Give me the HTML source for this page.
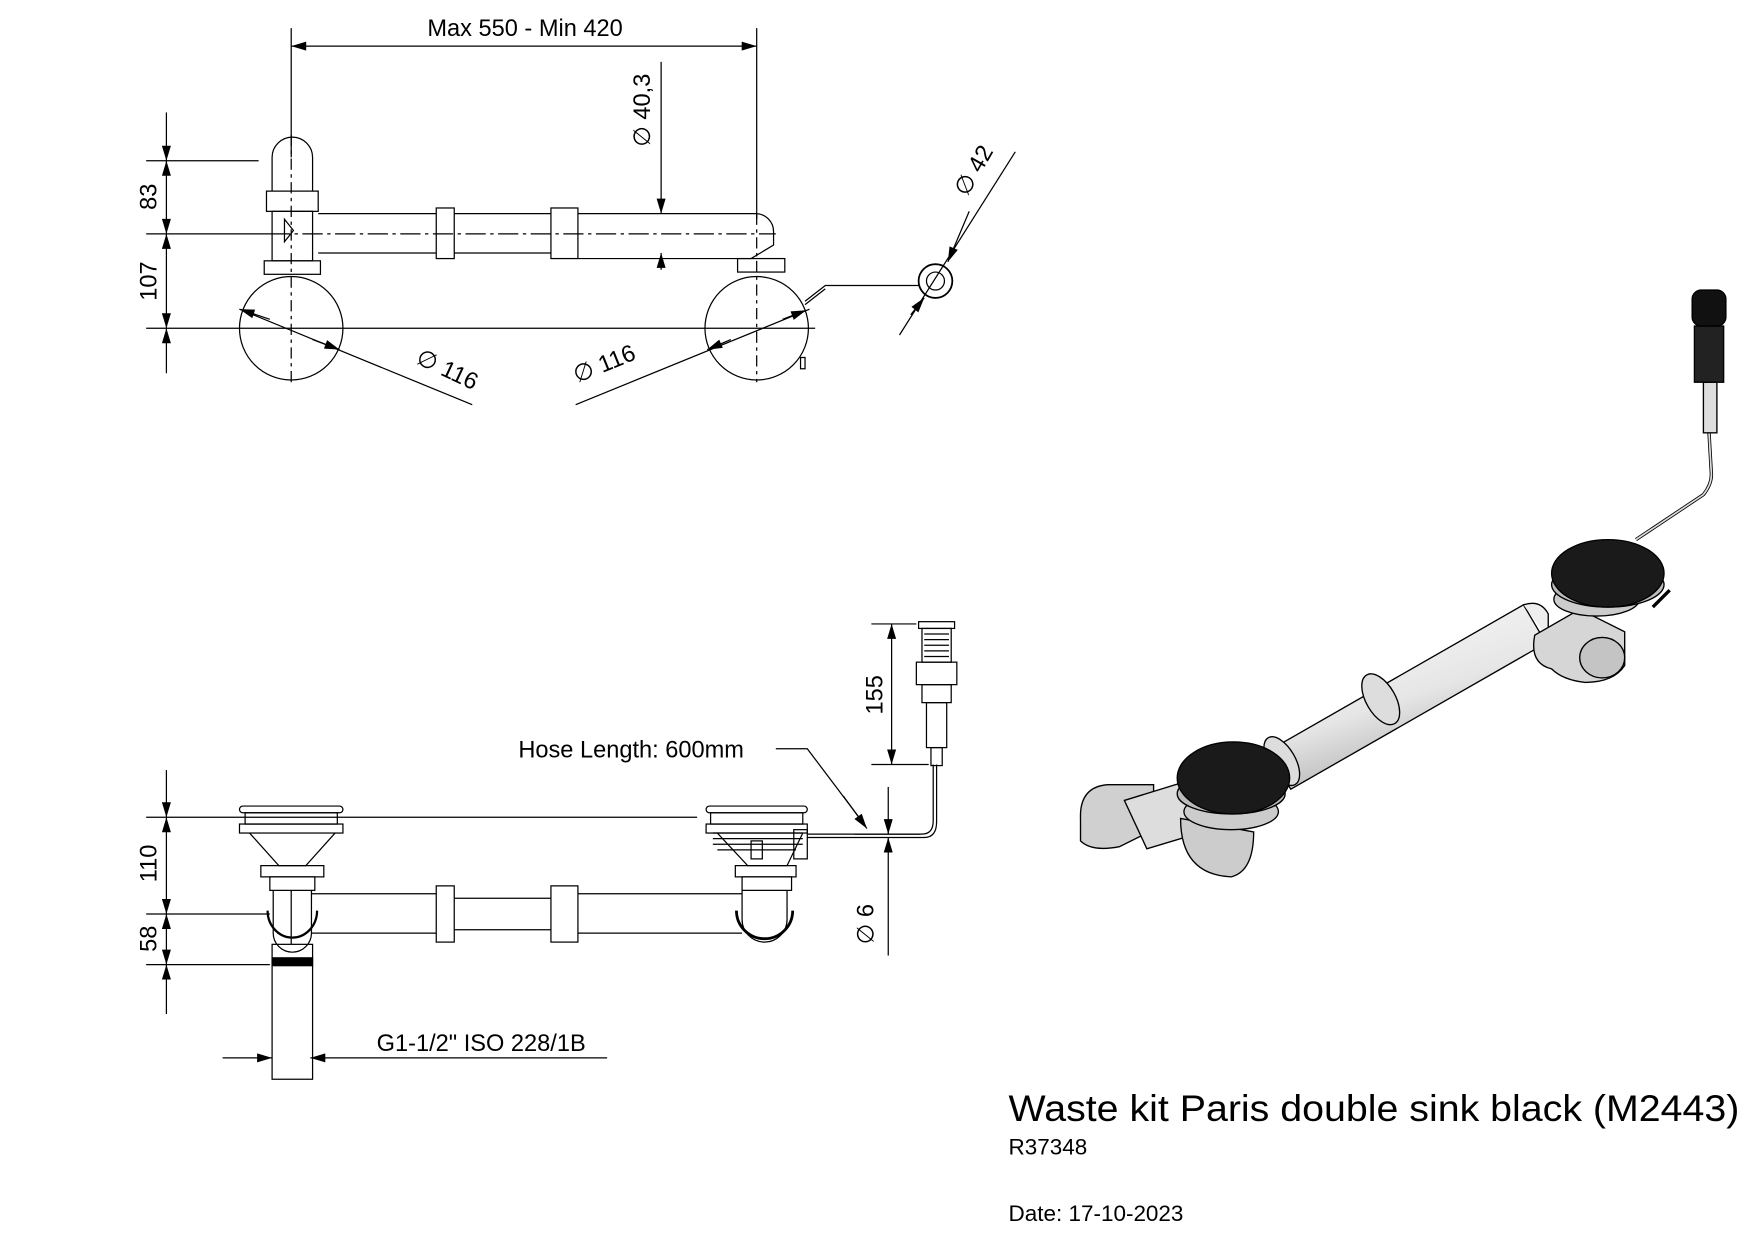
<!DOCTYPE html>
<html><head><meta charset="utf-8"><style>
html,body{margin:0;padding:0;background:#fff;}
svg{display:block;}
text{font-family:"Liberation Sans",sans-serif;fill:#000;}
</style></head><body>
<svg width="1754" height="1240" viewBox="0 0 1560 1103" preserveAspectRatio="none" xmlns="http://www.w3.org/2000/svg">
<defs>
<marker id="a" viewBox="0 0 10 6" refX="10" refY="3" markerWidth="14" markerHeight="8" markerUnits="userSpaceOnUse" orient="auto-start-reverse"><path d="M0,0L10,3L0,6z" fill="#000"/></marker>
<linearGradient id="pg" x1="0" y1="0" x2="0.5" y2="1"><stop offset="0" stop-color="#fff"/><stop offset=".6" stop-color="#e6e6e6"/><stop offset="1" stop-color="#aaa"/></linearGradient>
</defs>
<g fill="none" stroke="#000" stroke-width="1.1">
<!-- TOP VIEW -->
<line x1="259" y1="25" x2="259" y2="140"/>
<line x1="673" y1="25" x2="673" y2="195"/>
<line x1="259" y1="41" x2="673" y2="41" marker-start="url(#a)" marker-end="url(#a)"/>
<line x1="130" y1="143" x2="230" y2="143"/>
<line x1="130" y1="208" x2="240" y2="208"/>
<line x1="130" y1="292" x2="725" y2="292"/>
<line x1="148" y1="100" x2="148" y2="143" marker-end="url(#a)"/>
<line x1="148" y1="143" x2="148" y2="208" marker-start="url(#a)" marker-end="url(#a)"/>
<line x1="148" y1="208" x2="148" y2="292" marker-start="url(#a)" marker-end="url(#a)"/>
<line x1="148" y1="292" x2="148" y2="332" marker-start="url(#a)"/>
<path d="M242,170V140a18,18 0 0 1 36,0V170"/>
<rect x="237" y="170" width="46" height="18"/>
<rect x="242" y="188" width="36" height="44"/>
<rect x="235" y="232" width="50" height="12"/>
<path d="M253,215V195l8,10z"/>
<path d="M283,190H388M283,225H388"/>
<rect x="388" y="185" width="16" height="45"/><line x1="404" y1="190" x2="490" y2="190"/><line x1="404" y1="225" x2="490" y2="225"/>
<rect x="490" y="185" width="24" height="45"/>
<path d="M514,190H672a16,16 0 0 1 16,16V218l-20,12H514"/>
<rect x="656" y="230" width="42" height="12"/>
<line x1="240" y1="208" x2="690" y2="208" stroke-dasharray="18,4,3,4"/>
<line x1="259" y1="120" x2="259" y2="340" stroke-dasharray="10,4,3,4"/>
<line x1="673" y1="190" x2="673" y2="340" stroke-dasharray="10,4,3,4"/>
<circle cx="259" cy="292" r="46"/>
<circle cx="673" cy="292" r="46"/>
<path d="M712,318v10h4v-10z"/>
<line x1="588" y1="55" x2="588" y2="190" marker-end="url(#a)"/>
<line x1="588" y1="225" x2="588" y2="240" marker-start="url(#a)"/>
<line x1="213" y1="275" x2="420" y2="360"/>
<line x1="240" y1="284" x2="213" y2="275" marker-end="url(#a)"/>
<line x1="278" y1="302" x2="302" y2="311" marker-end="url(#a)"/>
<line x1="512" y1="360" x2="720" y2="275"/>
<line x1="650" y1="302" x2="629" y2="311" marker-end="url(#a)"/>
<line x1="696" y1="284" x2="717" y2="276" marker-end="url(#a)"/>
<path d="M716,268l18,-14h84M716,271l18,-14"/>
<circle cx="832" cy="250" r="15" stroke-width="1.6"/><circle cx="832" cy="250" r="8"/>
<line x1="903" y1="135" x2="800" y2="298"/>
<line x1="862" y1="188" x2="843" y2="233" marker-end="url(#a)"/>
<line x1="810" y1="280" x2="822" y2="265" marker-end="url(#a)"/>

<!-- BOTTOM VIEW -->
<line x1="130" y1="727" x2="620" y2="727"/>
<line x1="130" y1="813" x2="240" y2="813"/>
<line x1="130" y1="858" x2="240" y2="858"/>
<line x1="148" y1="685" x2="148" y2="727" marker-end="url(#a)"/>
<line x1="148" y1="727" x2="148" y2="813" marker-start="url(#a)" marker-end="url(#a)"/>
<line x1="148" y1="813" x2="148" y2="858" marker-start="url(#a)" marker-end="url(#a)"/>
<line x1="148" y1="858" x2="148" y2="902" marker-start="url(#a)"/>
<rect x="213" y="717" width="92" height="6" rx="3"/>
<rect x="218" y="723" width="82" height="10"/>
<rect x="213" y="733" width="92" height="8"/>
<path d="M222,741L248,770H272L298,741"/>
<rect x="232" y="770" width="56" height="10"/>
<rect x="240" y="780" width="40" height="12"/>
<path d="M243,792V830a17,17 0 0 0 34,0V792" />
<path d="M238,810a22,24 0 0 0 44,0" stroke-width="2"/>
<rect x="242" y="840" width="36" height="120"/>
<rect x="242" y="852" width="36" height="7" fill="#000"/>
<line x1="259" y1="792" x2="259" y2="840"/>
<path d="M277,795H388M277,830H388"/>
<rect x="388" y="788" width="16" height="50"/><line x1="404" y1="799" x2="490" y2="799"/><line x1="404" y1="827" x2="490" y2="827"/>
<rect x="490" y="788" width="24" height="50"/>
<path d="M514,795H660M514,830H660"/>
<rect x="628" y="717" width="90" height="6" rx="3"/>
<rect x="632" y="723" width="82" height="10"/>
<rect x="628" y="733" width="90" height="8"/>
<path d="M634,741h80M634,746h80M634,751h80M638,756h70"/>
<path d="M638,741L665,770H700L714,741"/>
<rect x="668" y="748" width="10" height="16"/>
<rect x="706" y="738" width="12" height="26"/>
<rect x="654" y="770" width="54" height="10"/>
<rect x="660" y="780" width="44" height="12"/>
<path d="M660,792V818a20,20 0 0 0 40,0V792"/>
<path d="M655,810a25,25 0 0 0 50,0" stroke-width="2.5"/>
<path d="M718,742H820q10,0 10,-12V680"/>
<path d="M718,745H822q11,0 11,-14V680"/>
<rect x="817" y="553" width="32" height="6"/>
<rect x="820" y="559" width="26" height="30"/>
<path d="M822,564h22M822,569h22M822,574h22M822,579h22M822,584h22"/>
<rect x="815" y="589" width="36" height="20"/>
<rect x="820" y="609" width="26" height="16"/>
<rect x="824" y="625" width="18" height="40"/>
<rect x="828" y="665" width="10" height="16"/>
<line x1="775" y1="555" x2="815" y2="555"/>
<line x1="775" y1="680" x2="826" y2="680"/>
<line x1="793" y1="555" x2="793" y2="680" marker-start="url(#a)" marker-end="url(#a)"/>
<path d="M690,666H718L770,735" />
<line x1="750" y1="708" x2="771" y2="737" marker-end="url(#a)"/>
<line x1="790" y1="700" x2="790" y2="742" marker-end="url(#a)"/>
<line x1="790" y1="745" x2="790" y2="850" marker-start="url(#a)"/>
<line x1="760" y1="742" x2="818" y2="742"/>
<line x1="198" y1="941" x2="242" y2="941" marker-end="url(#a)"/>
<line x1="276" y1="941" x2="540" y2="941" marker-start="url(#a)"/>
</g>

<g font-size="21">
<text x="467" y="32" text-anchor="middle">Max 550 - Min 420</text>
<text transform="translate(578,98) rotate(-90)" text-anchor="middle">∅ 40,3</text>
<text transform="translate(139,175) rotate(-90)" text-anchor="middle">83</text>
<text transform="translate(139,250) rotate(-90)" text-anchor="middle">107</text>
<text transform="translate(395,335) rotate(25)" text-anchor="middle">∅ 116</text>
<text transform="translate(540,330) rotate(-22)" text-anchor="middle">∅ 116</text>
<text transform="translate(872,155) rotate(-60)" text-anchor="middle">∅ 42</text>
<text x="461" y="674">Hose Length: 600mm</text>
<text transform="translate(785,618) rotate(-90)" text-anchor="middle">155</text>
<text transform="translate(139,768) rotate(-90)" text-anchor="middle">110</text>
<text transform="translate(139,835) rotate(-90)" text-anchor="middle">58</text>
<text transform="translate(777,822) rotate(-90)" text-anchor="middle">∅ 6</text>
<text x="335" y="935">G1-1/2" ISO 228/1B</text>
</g>

<!-- 3D render -->
<g stroke="#000" stroke-width="1.2">
<path d="M1520,385L1522,420Q1523,430 1515,440L1455,480" fill="none" stroke-width="3"/>
<path d="M1520,385L1522,420Q1523,430 1515,440L1455,480" fill="none" stroke="#ddd" stroke-width="1.5"/>
<rect x="1515" y="340" width="12" height="45" fill="#ddd"/>
<rect x="1507" y="290" width="26" height="50" fill="#222"/>
<rect x="1505" y="258" width="30" height="32" rx="8" fill="#111"/>
<!-- main pipe -->
<path d="M1128,668L1355,538L1375,572L1148,702z" fill="url(#pg)"/>
<path d="M1355,538q15,-5 22,8v22" fill="#eee"/>
<ellipse cx="1228" cy="622" rx="13" ry="25" transform="rotate(-30 1228 622)" fill="#ddd"/>
<ellipse cx="1140" cy="677" rx="12" ry="24" transform="rotate(-30 1140 677)" fill="#ddd"/>
<!-- right trap -->
<path d="M1365,565q-5,25 15,30q10,10 30,12q25,0 35,-15v-30l-40,-20z" fill="#d6d6d6"/>
<ellipse cx="1425" cy="585" rx="20" ry="18" fill="#c4c4c4"/>
<ellipse cx="1420" cy="533" rx="38" ry="15" fill="#ccc"/>
<ellipse cx="1430" cy="520" rx="50" ry="20" fill="#bbb"/>
<ellipse cx="1430" cy="510" rx="50" ry="30" fill="#1a1a1a"/>
<path d="M1470,540l15,-15" stroke-width="3"/>
<!-- left side -->
<path d="M985,698q-25,2 -24,30v20q10,10 35,5l30,-15v-40z" fill="#d0d0d0"/>
<path d="M1000,712L1055,695L1070,740L1020,755z" fill="#ddd"/>
<path d="M1050,728q0,50 45,52q20,-5 20,-40z" fill="#ccc"/>
<ellipse cx="1095" cy="722" rx="42" ry="16" fill="#ccc"/>
<ellipse cx="1095" cy="706" rx="48" ry="18" fill="#bbb"/>
<ellipse cx="1097" cy="692" rx="50" ry="32" fill="#1a1a1a"/>
</g>

<text x="897" y="997" font-size="33" textLength="650" lengthAdjust="spacingAndGlyphs">Waste kit Paris double sink black (M2443)</text>
<text x="897" y="1027" font-size="20">R37348</text>
<text x="897" y="1086" font-size="20">Date: 17-10-2023</text>
</svg>
</body></html>
